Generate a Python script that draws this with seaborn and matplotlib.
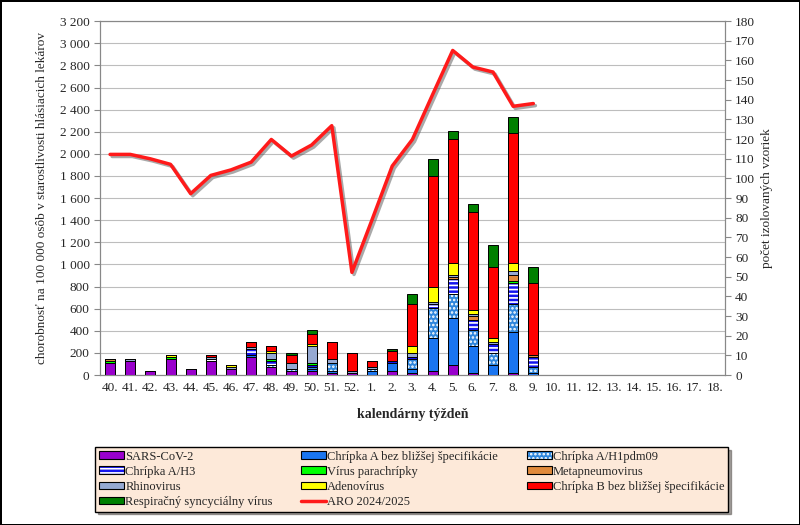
import numpy as np
import pandas as pd
import seaborn as sb
import matplotlib
matplotlib.use('Agg')
import matplotlib.pyplot as plt
import matplotlib.patheffects as pe
from matplotlib.patches import Patch
from matplotlib.lines import Line2D

weeks = ["40.", "41.", "42.", "43.", "44.", "45.", "46.", "47.", "48.", "49.", "50.", "51.", "52.",
         "1.", "2.", "3.", "4.", "5.", "6.", "7.", "8.", "9.", "10.", "11.", "12.", "13.", "14.",
         "15.", "16.", "17.", "18."]

# pocet izolovanych vzoriek (weeks 40.-9.)
sars = [6, 7, 2, 8, 3, 7, 3, 9, 4, 2, 2, 1, 1, 0, 2, 1, 2, 5, 1, 0, 1, 0]
flu_a = [0, 0, 0, 0, 0, 0, 0, 1, 0, 0, 1, 1, 0, 2, 4, 2, 17, 24, 14, 5, 21, 1]
h1pdm = [0, 0, 0, 0, 0, 0, 0, 0, 1, 1, 1, 4, 0, 1, 0, 5, 15, 12, 8, 6, 14, 3]
h3 = [0, 0, 0, 0, 0, 1, 0, 3, 2, 0, 1, 0, 0, 0, 1, 1, 2, 8, 5, 5, 11, 5]
paraflu = [1, 0, 0, 1, 0, 0, 0, 0, 1, 0, 1, 0, 0, 0, 0, 0, 0, 0, 0, 0, 1, 0]
metapneumo = [1, 0, 0, 0, 0, 0, 0, 0, 0, 0, 0, 0, 0, 0, 0, 0, 0, 1, 2, 0, 3, 1]
rhino = [0, 1, 0, 0, 0, 1, 1, 1, 3, 3, 9, 2, 1, 1, 0, 2, 1, 1, 1, 1, 2, 0]
adeno = [0, 0, 0, 1, 0, 0, 1, 0, 1, 0, 1, 0, 0, 0, 0, 4, 8, 6, 2, 2, 4, 0]
flu_b = [0, 0, 0, 0, 0, 1, 0, 3, 3, 4, 5, 9, 9, 3, 5, 21, 56, 63, 50, 36, 66, 37]
rsv = [0, 0, 0, 0, 0, 0, 0, 0, 0, 1, 2, 0, 0, 0, 1, 5, 9, 4, 4, 11, 8, 8]

# chorobnost ARO na 100 000
aro = [1995, 1995, 1955, 1905, 1640, 1805, 1855, 1925, 2130, 1980, 2080, 2255, 928,
       1405, 1890, 2130, 2535, 2935, 2785, 2740, 2430, 2455]

names = ["SARS-CoV-2", "Chrípka A bez bližšej špecifikácie", "Chrípka A/H1pdm09", "Chrípka A/H3",
         "Vírus parachrípky", "Metapneumovirus", "Rhinovirus", "Adenovírus",
         "Chrípka B bez bližšej špecifikácie", "Respiračný syncyciálny vírus"]
series = [sars, flu_a, h1pdm, h3, paraflu, metapneumo, rhino, adeno, flu_b, rsv]
colors = ["#9900cc", "#1a75f0", "#2f86dc", "#1414ee", "#00ff00", "#e08a3c",
          "#96a9d2", "#ffff00", "#ff0000", "#008000"]
hatches = [None, None, "....", "----", None, None, None, None, None, None]


def pad(vals):
    return list(vals) + [np.nan] * (len(weeks) - len(vals))


def white_hatch(p):
    if hasattr(p, "set_hatchcolor"):
        p.set_hatchcolor("white")
    else:
        p._hatch_color = (1, 1, 1, 1)


df = pd.DataFrame({"pos": np.arange(len(weeks))})
for n, s in zip(names, series):
    df[n] = pad(s)
cum = df[names].cumsum(axis=1)

sb.set_style("white")
plt.rcParams["font.family"] = ["Liberation Serif", "DejaVu Serif"]
plt.rcParams["hatch.linewidth"] = 1.2

fig = plt.figure(figsize=(8, 5.25), dpi=100, linewidth=1, edgecolor="black")
ax = fig.add_axes([0.125, 0.2857, 0.781, 0.674])
ax2 = ax.twinx()

sb.lineplot(x=df["pos"][:len(aro)], y=aro, ax=ax, color="#ff1a1a", linewidth=2.5,
            path_effects=[pe.SimpleLineShadow(offset=(1.5, -1.5), shadow_color="#555555", alpha=0.5),
                          pe.Normal()])

for n, c, h in reversed(list(zip(names, colors, hatches))):
    sb.barplot(x=df["pos"], y=cum[n], order=df["pos"], color=c, saturation=1, width=0.5,
               edgecolor="black", linewidth=0.7, errorbar=None, ax=ax2)
    if h:
        for p in ax2.containers[-1]:
            p.set_hatch(h)
            white_hatch(p)

ax.set_xlim(-0.5, len(weeks) - 0.5)
ax.set_ylim(0, 3200)
ax.set_yticks(np.arange(0, 3201, 200))
ax.set_yticklabels([f"{v:,}".replace(",", " ") for v in range(0, 3201, 200)])
ax2.set_ylim(0, 180)
ax2.set_yticks(np.arange(0, 181, 10))
ax.set_xticks(df["pos"], labels=weeks)
ax.set_xticks(np.arange(-0.5, len(weeks), 1), minor=True)
ax.tick_params(axis="x", which="major", length=0, labelsize=9.5, pad=5)
ax.tick_params(axis="x", which="minor", length=4, color="#888888", direction="out")
ax.tick_params(axis="y", length=4, color="#888888", labelsize=9.5, left=True, direction="out")
ax2.tick_params(axis="y", length=4, color="#888888", labelsize=9.5, right=True, direction="out")
ax.grid(axis="y", color="#bdbdbd", linewidth=0.8)
ax.grid(axis="x", visible=False)
ax2.grid(False)
for a in (ax, ax2):
    for sp in a.spines.values():
        sp.set_color("#888888")

ax.set_xlabel("kalendárny týždeň", fontsize=10, fontweight="bold", labelpad=10)
ax.set_ylabel("chorobnosť na 100 000 osôb v starostlivosti hlásiacich lekárov", fontsize=9.5, labelpad=8)
ax2.set_ylabel("počet izolovaných vzoriek", fontsize=9.5, labelpad=4)
ax2.set_xlabel("")

handles = []
for n, c, h in zip(names, colors, hatches):
    p = Patch(facecolor=c, edgecolor="black", linewidth=0.8, hatch=h, label=n)
    if h:
        white_hatch(p)
    handles.append(p)
handles.append(Line2D([], [], color="#ff1a1a", linewidth=2.5, label="ARO 2024/2025"))
# legend is filled column by column, reference reads row by row
order = [0, 3, 6, 9, 1, 4, 7, 10, 2, 5, 8]
leg = fig.legend([handles[i] for i in order], [handles[i].get_label() for i in order],
                 loc="upper left", bbox_to_anchor=(0.119, 0.032, 0.791, 0.117), mode="expand",
                 ncol=3, fontsize=9, frameon=True, fancybox=False, shadow=True,
                 facecolor="#fde9d9", edgecolor="black", framealpha=1,
                 handlelength=2.0, handleheight=0.55, handletextpad=0.1,
                 labelspacing=0.25, borderpad=0.3, borderaxespad=0)
leg.get_frame().set_linewidth(1)

fig.savefig("out.png", dpi=100)
